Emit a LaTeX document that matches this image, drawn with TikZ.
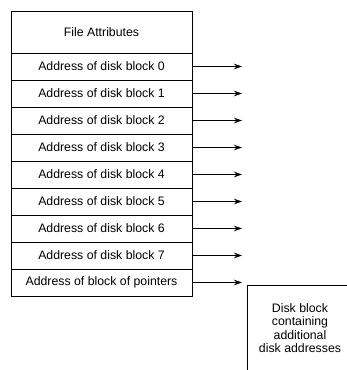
\documentclass[tikz,border=0pt]{standalone}
\usepackage{fontspec}
\setmainfont{Liberation Sans}
\usetikzlibrary{arrows.meta}
\begin{document}
\begin{tikzpicture}[x=1pt,y=-1pt,
  cell/.style={draw, line width=1pt, rectangle, minimum width=181pt, inner sep=0pt,
    font=\fontsize{12.3}{14}\selectfont},
  slot/.style={cell, minimum height=27pt},
  ptr/.style={line width=1.3pt, -{Stealth[length=8pt,width=5.5pt]}},
  every node/.style={anchor=center}]
  \useasboundingbox (0,0) rectangle (347,370);
  % i-node: attributes followed by direct and indirect addresses
  \node[cell, minimum height=42pt] (attr) at (101.5,32) {File Attributes};
  \foreach \i in {0,...,7} {
    \node[slot] (b\i) at (101.5,66.5+27*\i) {Address of disk block \i};
    \coordinate (t\i) at (242,66.5+27*\i);
    \draw[ptr] (b\i.east) -- (t\i);
  }
  \node[slot] (ind) at (101.5,282.5) {Address of block of pointers};
  \coordinate (tind) at (242,282.5);
  \draw[ptr] (ind.east) -- (tind);
  % indirect block, partly shown
  \coordinate (dbtr) at (347,285);
  \coordinate (dbtl) at (247,285);
  \coordinate (dbbl) at (247,370);
  \draw[line width=1pt] (dbtr) -- (dbtl) -- (dbbl);
  \node[align=center, font=\fontsize{12.3}{13.5}\selectfont] (dblock) at (300,328)
    {Disk block\\containing\\additional\\disk addresses};
\end{tikzpicture}
\end{document}
